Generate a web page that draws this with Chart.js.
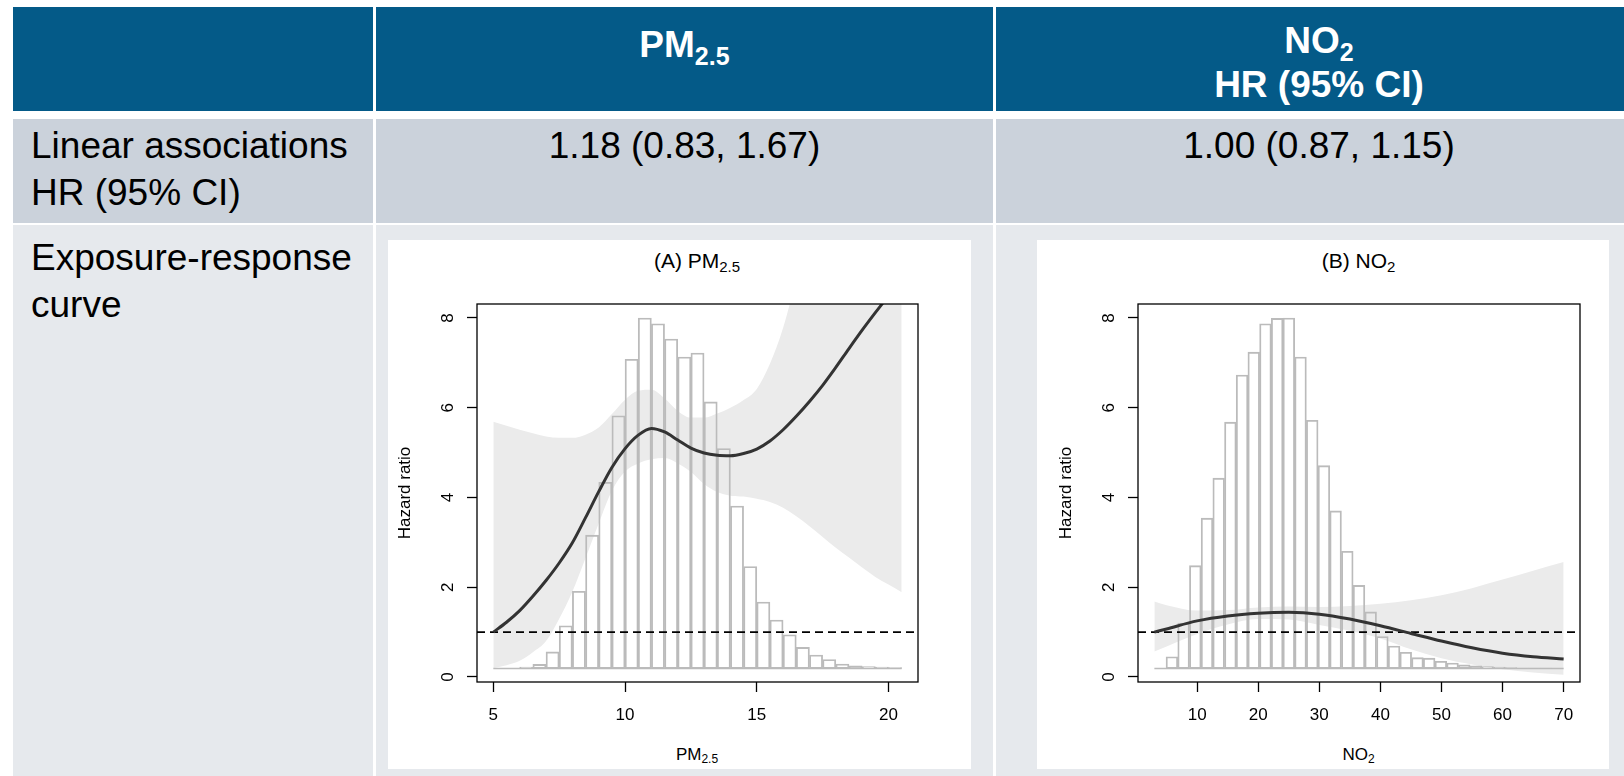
<!DOCTYPE html>
<html lang="en">
<head>
<meta charset="utf-8">
<title>PM2.5 and NO2 exposure-response</title>
<script src="https://cdn.jsdelivr.net/npm/chart.js@4.4.1/dist/chart.umd.min.js"></script>
<style>
  html, body { margin: 0; padding: 0; }
  body { width: 1624px; height: 776px; position: relative; overflow: hidden; background: #fff;
         font-family: 'Liberation Sans', Arial, sans-serif; }
  .box { position: absolute; }
  .head { background: #045a88; }
  .row2 { background: #cbd2db; }
  .row3 { background: #e6e9ed; }
  .panel { position: absolute; background: #fff; }
  .txt { position: absolute; white-space: nowrap; line-height: 1; color: #000; }
  .c { text-align: center; width: 600px; }
  .big { font-size: 37px; }
  .hd { font-size: 37px; font-weight: bold; color: #fff; }
  .hd sub { font-size: 25px; position: relative; top: 8px; vertical-align: baseline; }
  .ttl { font-size: 21px; }
  .ttl sub { font-size: 15px; position: relative; top: 4px; vertical-align: baseline; }
  .xl { font-size: 17px; }
  .xl sub { font-size: 12px; position: relative; top: 3.5px; vertical-align: baseline; }
  canvas { position: absolute; }
</style>
</head>
<body>
<!-- table cells -->
<div class="box head" style="left:13px;top:7px;width:360px;height:104px"></div>
<div class="box head" style="left:376px;top:7px;width:617px;height:104px"></div>
<div class="box head" style="left:996px;top:7px;width:628px;height:104px"></div>
<div class="box row2" style="left:13px;top:119px;width:360px;height:104px"></div>
<div class="box row2" style="left:376px;top:119px;width:617px;height:104px"></div>
<div class="box row2" style="left:996px;top:119px;width:628px;height:104px"></div>
<div class="box row3" style="left:13px;top:225px;width:360px;height:551px"></div>
<div class="box row3" style="left:376px;top:225px;width:617px;height:551px"></div>
<div class="box row3" style="left:996px;top:225px;width:628px;height:551px"></div>

<!-- header text -->
<div class="txt hd c" style="left:384.5px;top:26px">PM<sub>2.5</sub></div>
<div class="txt hd c" style="left:1019px;top:21.5px">NO<sub>2</sub></div>
<div class="txt hd c" style="left:1019px;top:66px">HR (95% CI)</div>

<!-- row 2 -->
<div class="txt big" style="left:31px;top:127px">Linear associations</div>
<div class="txt big" style="left:31px;top:174px">HR (95% CI)</div>
<div class="txt big c" style="left:384.5px;top:126.5px">1.18 (0.83, 1.67)</div>
<div class="txt big c" style="left:1019px;top:126.5px">1.00 (0.87, 1.15)</div>

<!-- row 3 -->
<div class="txt big" style="left:31px;top:239px">Exposure-response</div>
<div class="txt big" style="left:31px;top:286px">curve</div>

<!-- chart panels -->
<div class="panel" style="left:388px;top:240px;width:583px;height:529px"></div>
<div class="panel" style="left:1037px;top:240px;width:572px;height:529px"></div>

<div class="txt ttl c" style="left:397px;top:250px">(A) PM<sub>2.5</sub></div>
<div class="txt ttl c" style="left:1058.5px;top:250px">(B) NO<sub>2</sub></div>
<div class="txt xl c" style="left:397px;top:745.5px">PM<sub>2.5</sub></div>
<div class="txt xl c" style="left:1058.5px;top:745.5px">NO<sub>2</sub></div>

<canvas id="chart-pm" width="551" height="498" style="left:377px;top:274px"></canvas>
<canvas id="chart-no2" width="552" height="498" style="left:1038px;top:274px"></canvas>

<script>
// --- PM2.5 ---
const pmBins = [5.25, 5.75, 6.25, 6.75, 7.25, 7.75, 8.25, 8.75, 9.25, 9.75, 10.25, 10.75, 11.25, 11.75, 12.25, 12.75,
                13.25, 13.75, 14.25, 14.75, 15.25, 15.75, 16.25, 16.75, 17.25, 17.75, 18.25, 18.75, 19.25, 19.75, 20.25];
const pmCounts = [0.19, 0.19, 0.22, 0.28, 0.56, 1.14, 1.91, 3.16, 4.34, 5.82, 7.08, 8.00, 7.87, 7.53, 7.13, 7.22,
                  6.13, 5.09, 3.81, 2.46, 1.67, 1.27, 0.94, 0.66, 0.49, 0.39, 0.29, 0.25, 0.23, 0.22, 0.21];
const pmX = [5, 5.5, 6, 6.5, 7, 7.5, 8, 8.5, 9, 9.5, 10, 10.5, 11, 11.5, 12, 12.5,
             13, 13.5, 14, 14.5, 15, 15.5, 16, 16.5, 17, 17.5, 18, 18.5, 19, 19.5, 20, 20.5];
const pmHR = [1.00, 1.22, 1.48, 1.80, 2.15, 2.54, 2.99, 3.55, 4.13, 4.67, 5.09, 5.39, 5.54, 5.46, 5.28, 5.10,
              4.99, 4.94, 4.93, 4.98, 5.08, 5.26, 5.51, 5.81, 6.14, 6.50, 6.90, 7.32, 7.73, 8.12, 8.50, 8.90];
const pmLower = [0.20, 0.26, 0.36, 0.55, 0.80, 1.30, 1.90, 2.65, 3.42, 4.15, 4.58, 4.76, 4.85, 4.88, 4.76, 4.57,
                 4.30, 4.12, 4.04, 4.02, 3.97, 3.90, 3.77, 3.58, 3.36, 3.12, 2.88, 2.66, 2.44, 2.23, 2.06, 1.89];
const pmUpper = [5.69, 5.60, 5.51, 5.43, 5.36, 5.33, 5.33, 5.40, 5.56, 5.86, 6.18, 6.38, 6.40, 6.21, 5.93, 5.78,
                 5.78, 5.87, 6.00, 6.17, 6.42, 6.98, 7.78, 8.9, 10.2, 11.6, 13.2, 14.9, 16.7, 18.6, 20.6, 22.7];
const pmTicks = [5, 10, 15, 20];
const pmRange = [4.38, 21.12];

// --- NO2 ---
const no2Bins = [3.957, 5.871, 7.786, 9.700, 11.614, 13.529, 15.443, 17.357, 19.271, 21.186, 23.100, 25.014,
                 26.929, 28.843, 30.757, 32.671, 34.586, 36.500, 38.414, 40.329, 42.243, 44.157, 46.071, 47.986,
                 49.900, 51.814, 53.729, 55.643, 57.557, 59.471, 61.386, 63.300, 65.214, 67.129, 69.043];
const no2Counts = [0.19, 0.45, 1.20, 2.48, 3.54, 4.43, 5.68, 6.73, 7.24, 7.87, 7.99, 8.00,
                   7.13, 5.72, 4.71, 3.70, 2.80, 2.04, 1.45, 0.90, 0.69, 0.55, 0.43, 0.42,
                   0.35, 0.31, 0.27, 0.25, 0.23, 0.22, 0.21, 0.20, 0.20, 0.20, 0.19];
const no2X = [3, 5, 10, 15, 20, 25, 30, 35, 40, 45, 50, 55, 60, 65, 70];
const no2HR = [1.00, 1.07, 1.25, 1.36, 1.42, 1.44, 1.40, 1.29, 1.14, 0.97, 0.80, 0.65, 0.53, 0.45, 0.40];
const no2Lower = [0.57, 0.68, 0.96, 1.17, 1.29, 1.28, 1.16, 1.03, 0.86, 0.62, 0.42, 0.28, 0.17, 0.10, 0.05];
const no2Upper = [1.68, 1.60, 1.48, 1.49, 1.55, 1.57, 1.56, 1.58, 1.63, 1.71, 1.82, 1.98, 2.17, 2.37, 2.56];
const no2Ticks = [10, 20, 30, 40, 50, 60, 70];
const no2Range = [0.32, 72.68];

// shared
const yTicks = [0, 2, 4, 6, 8];
const yRange = [-0.112, 8.312];
const histBase = 0.19;
const refHR = 1;

Chart.defaults.font.family = "'Liberation Sans', Arial, sans-serif";
Chart.defaults.color = '#000';

// R-style box round the plot region
const plotBox = {
    id: 'plotBox',
    afterDatasetsDraw(chart) {
        const { ctx, chartArea: a } = chart;
        ctx.save();
        ctx.strokeStyle = '#000';
        ctx.lineWidth = 1.3;
        ctx.strokeRect(a.left, a.top, a.right - a.left, a.bottom - a.top);
        ctx.restore();
    }
};

function buildDatasets(bins, counts, xs, hr, lower, upper, range) {
    const pts = ys => xs.map((x, i) => ({ x, y: ys[i] }));
    const smooth = { type: 'line', cubicInterpolationMode: 'monotone', pointRadius: 0 };
    return [
        { ...smooth, data: pts(hr), borderColor: '#333333', borderWidth: 3, fill: false, order: 0 },
        { type: 'line', data: range.map(x => ({ x, y: refHR })), borderColor: '#000', borderWidth: 1.8,
          borderDash: [8, 5], pointRadius: 0, fill: false, order: 1 },
        { type: 'bar', data: bins.map((x, i) => ({ x, y: [histBase, counts[i]] })),
          backgroundColor: 'rgba(0,0,0,0)', borderColor: '#bbbbbb', borderWidth: 1.2, borderSkipped: false,
          barPercentage: 1, categoryPercentage: 1, order: 2 },
        { type: 'line', data: [{ x: xs[0], y: histBase }, { x: xs[xs.length - 1], y: histBase }],
          borderColor: '#bbbbbb', borderWidth: 1.5, pointRadius: 0, fill: false, order: 3 },
        { ...smooth, data: pts(upper), borderWidth: 0, backgroundColor: '#ebebeb', fill: '+1', order: 4 },
        { ...smooth, data: pts(lower), borderWidth: 0, fill: false, order: 5 }
    ];
}

function makeChart(id, datasets, range, xTicks) {
    const tickGrid = { display: true, drawOnChartArea: false, drawTicks: true, tickLength: 10,
                       tickWidth: 1.3, tickColor: '#000', offset: false };
    return new Chart(document.getElementById(id), {
        type: 'line',
        data: { datasets },
        options: {
            responsive: false,
            animation: false,
            // top padding is larger than the y scale's own label padding, so it fixes the plot top
            layout: { padding: { top: 30, right: 10, left: 0, bottom: 0 } },
            plugins: { legend: { display: false }, tooltip: { enabled: false } },
            scales: {
                x: {
                    type: 'linear', min: range[0], max: range[1], offset: false,
                    afterBuildTicks: s => { s.ticks = xTicks.map(v => ({ value: v })); },
                    afterFit: s => { s.height = 90; },
                    grid: tickGrid,
                    border: { display: false },
                    ticks: { color: '#000', font: { size: 17 }, padding: 13, maxRotation: 0, autoSkip: false }
                },
                y: {
                    type: 'linear', min: yRange[0], max: yRange[1],
                    afterBuildTicks: s => { s.ticks = yTicks.map(v => ({ value: v })); },
                    afterFit: s => { s.width = 100; },
                    grid: tickGrid,
                    border: { display: false },
                    ticks: { color: '#000', font: { size: 17 }, padding: 14, minRotation: 90, maxRotation: 90,
                             crossAlign: 'center', autoSkip: false },
                    title: { display: true, text: 'Hazard ratio', color: '#000', font: { size: 17 },
                             padding: { top: 18, bottom: 0 } }
                }
            }
        },
        plugins: [plotBox]
    });
}

makeChart('chart-pm', buildDatasets(pmBins, pmCounts, pmX, pmHR, pmLower, pmUpper, pmRange), pmRange, pmTicks);
makeChart('chart-no2', buildDatasets(no2Bins, no2Counts, no2X, no2HR, no2Lower, no2Upper, no2Range), no2Range, no2Ticks);
</script>
</body>
</html>
